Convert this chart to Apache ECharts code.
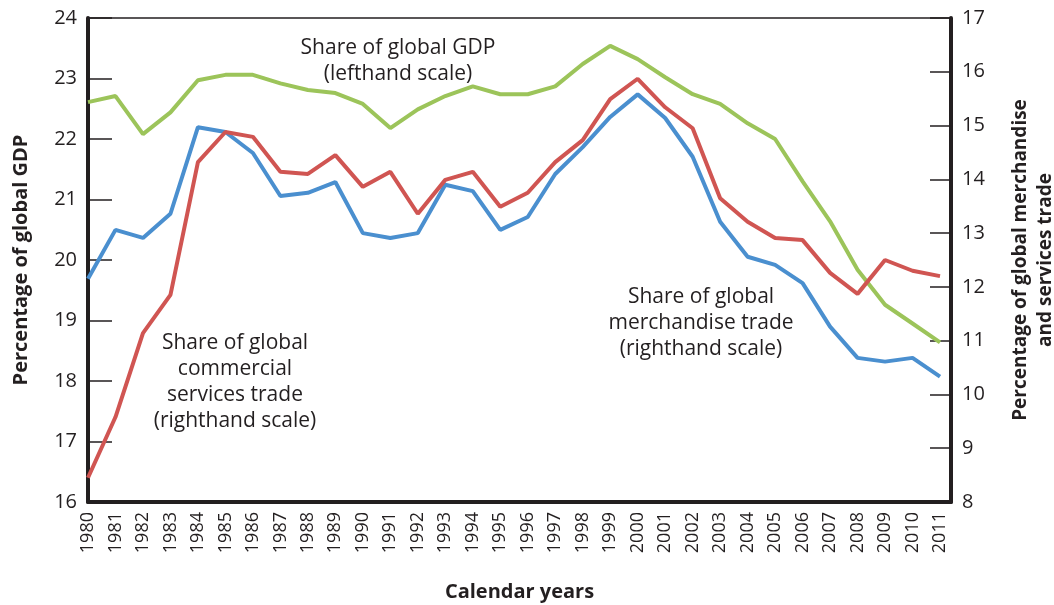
<!DOCTYPE html>
<html>
<head>
<meta charset="utf-8">
<script src="https://cdn.jsdelivr.net/npm/echarts@6/dist/echarts.min.js"></script>
<style>
    html, body { margin: 0; padding: 0; background: #fff; }
    #chart { width: 1054px; height: 605px; }
</style>
</head>
<body>
<div id="chart"></div>
<script>
// data
var years = [1980, 1981, 1982, 1983, 1984, 1985, 1986, 1987, 1988, 1989,
    1990, 1991, 1992, 1993, 1994, 1995, 1996, 1997, 1998, 1999,
    2000, 2001, 2002, 2003, 2004, 2005, 2006, 2007, 2008, 2009, 2010, 2011];
// share of global GDP (left scale)
var gdpShare = [22.61, 22.71, 22.08, 22.44, 22.97, 23.06, 23.06, 22.92, 22.81, 22.76,
    22.58, 22.18, 22.49, 22.71, 22.87, 22.74, 22.74, 22.87, 23.24, 23.54,
    23.32, 23.02, 22.74, 22.58, 22.26, 22.00, 21.30, 20.64, 19.84, 19.26, 18.95, 18.64];
// share of global commercial services trade (right scale)
var servicesShare = [8.45, 9.58, 11.14, 11.85, 14.32, 14.88, 14.79, 14.14, 14.10, 14.45,
    13.86, 14.14, 13.36, 13.99, 14.14, 13.49, 13.75, 14.32, 14.73, 15.49,
    15.87, 15.34, 14.95, 13.65, 13.21, 12.91, 12.87, 12.26, 11.87, 12.50, 12.30, 12.20];
// share of global merchandise trade (right scale)
var merchShare = [12.15, 13.06, 12.91, 13.36, 14.97, 14.88, 14.49, 13.69, 13.75, 13.95,
    13.00, 12.91, 13.00, 13.90, 13.78, 13.06, 13.30, 14.10, 14.60, 15.16,
    15.58, 15.14, 14.42, 13.21, 12.56, 12.41, 12.07, 11.26, 10.68, 10.61, 10.68, 10.33];

var leftTicks = [16, 24, 1];   // min, max, step
var rightTicks = [8, 17, 1];

function pairs(vals) {
    return years.map(function (y, i) { return [y, vals[i]]; });
}

var ink = '#231f20';
var font = 'Open Sans';

var myChart = echarts.init(document.getElementById('chart'));
var option = {
    backgroundColor: '#fff',
    animation: false,
    textStyle: { fontFamily: font },
    grid: { left: 88, right: 103, top: 18, bottom: 103, containLabel: false, outerBoundsMode: 'none' },
    xAxis: [
        {
            type: 'value',
            min: 1980,
            max: 2011.4,
            interval: 1,
            name: 'Calendar years',
            nameLocation: 'middle',
            nameGap: 80,
            nameTextStyle: { fontSize: 20, fontWeight: 'bold', color: ink, fontFamily: font },
            axisLine: { show: true, onZero: false, lineStyle: { color: ink, width: 4 } },
            axisTick: { show: false },
            splitLine: { show: false },
            axisLabel: {
                rotate: 90,
                margin: 10,
                fontSize: 18,
                color: ink,
                fontFamily: font,
                formatter: function (v) { return v % 1 === 0 ? String(v) : ''; }
            }
        },
        {
            // thin top border
            type: 'value',
            position: 'top',
            min: 1980,
            max: 2011.4,
            axisLine: { show: true, onZero: false, lineStyle: { color: ink, width: 1.5 } },
            axisTick: { show: false },
            axisLabel: { show: false },
            splitLine: { show: false }
        }
    ],
    yAxis: [
        {
            type: 'value',
            position: 'left',
            min: leftTicks[0],
            max: leftTicks[1],
            interval: leftTicks[2],
            name: 'Percentage of global GDP',
            nameLocation: 'middle',
            nameRotate: 90,
            nameGap: 57,
            nameTextStyle: { fontSize: 20, fontWeight: 'bold', color: ink, fontFamily: font },
            axisLine: { show: true, onZero: false, lineStyle: { color: ink, width: 4 } },
            axisTick: { show: true, inside: true, length: 24, lineStyle: { color: ink, width: 1.5 } },
            axisLabel: { fontSize: 20, color: ink, margin: 11, fontFamily: font },
            splitLine: { show: false }
        },
        {
            type: 'value',
            position: 'right',
            min: rightTicks[0],
            max: rightTicks[1],
            interval: rightTicks[2],
            name: 'Percentage of global merchandise\nand services trade',
            nameLocation: 'middle',
            nameRotate: 90,
            nameGap: 57,
            nameTextStyle: { fontSize: 19, fontWeight: 'bold', color: ink, fontFamily: font, lineHeight: 25 },
            axisLine: { show: true, onZero: false, lineStyle: { color: ink, width: 4 } },
            axisTick: { show: true, inside: true, length: 21, lineStyle: { color: ink, width: 1.5 } },
            axisLabel: { fontSize: 20, color: ink, margin: 11, fontFamily: font },
            splitLine: { show: false }
        }
    ],
    graphic: [
        {
            type: 'text', x: 398, y: 35,
            style: { text: 'Share of global GDP\n(lefthand scale)', fill: ink, font: '21px "Open Sans"', align: 'center', verticalAlign: 'top', lineHeight: 26 }
        },
        {
            type: 'text', x: 235, y: 330,
            style: { text: 'Share of global\ncommercial\nservices trade\n(righthand scale)', fill: ink, font: '21px "Open Sans"', align: 'center', verticalAlign: 'top', lineHeight: 26 }
        },
        {
            type: 'text', x: 701, y: 284,
            style: { text: 'Share of global\nmerchandise trade\n(righthand scale)', fill: ink, font: '21px "Open Sans"', align: 'center', verticalAlign: 'top', lineHeight: 26 }
        }
    ],
    series: [
        {
            name: 'GDP',
            type: 'line',
            yAxisIndex: 0,
            showSymbol: false,
            lineStyle: { color: '#9cc45a', width: 4 },
            itemStyle: { color: '#9cc45a' },
            data: pairs(gdpShare)
        },
        {
            name: 'Merchandise',
            type: 'line',
            yAxisIndex: 1,
            showSymbol: false,
            lineStyle: { color: '#4a8fcf', width: 4 },
            itemStyle: { color: '#4a8fcf' },
            data: pairs(merchShare)
        },
        {
            name: 'Services',
            type: 'line',
            yAxisIndex: 1,
            showSymbol: false,
            lineStyle: { color: '#d05552', width: 4 },
            itemStyle: { color: '#d05552' },
            data: pairs(servicesShare)
        }
    ]
};
myChart.setOption(option);
</script>
</body>
</html>
